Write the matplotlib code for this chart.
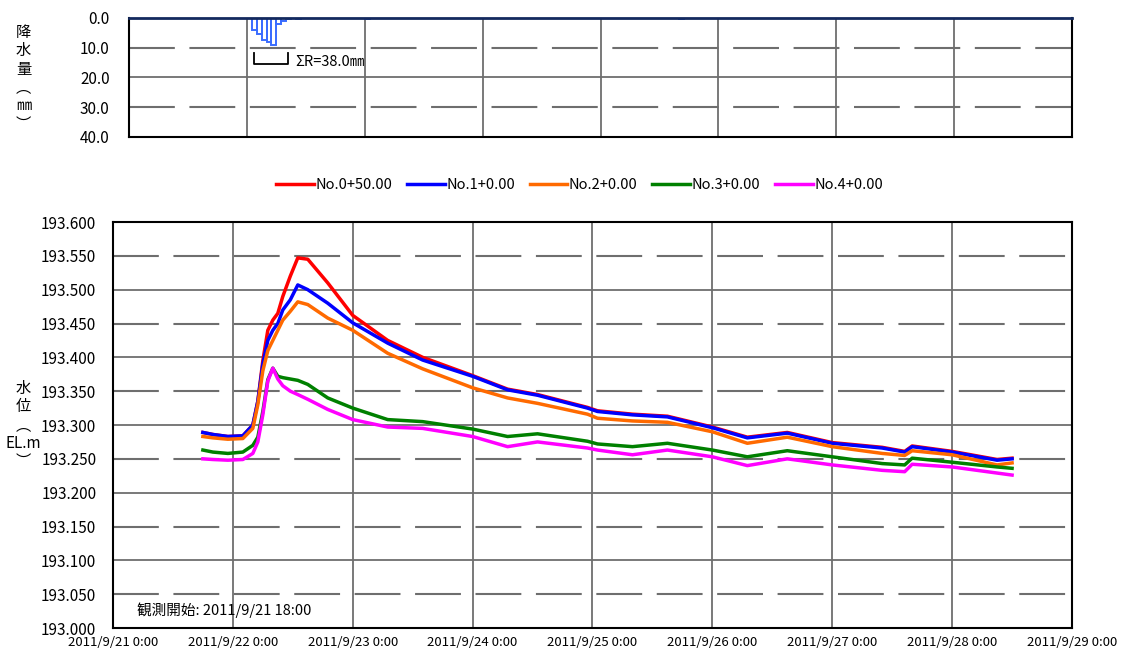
import matplotlib
matplotlib.use('Agg')
import matplotlib.pyplot as plt

plt.rcParams['font.family'] = ['Noto Sans CJK JP', 'DejaVu Sans']

# 経過時間 (2011/9/21 0:00 からの時間)
hours = [18, 20, 23, 26, 28, 29, 30, 31, 32, 33, 34, 35.5, 37, 39, 43, 48, 55, 62,
         72, 79, 85, 95, 97, 104, 111, 120, 127, 135, 144, 154, 158.5, 160, 168, 177, 180]

# 水位 (EL.m)
no0_50 = [193.289, 193.286, 193.283, 193.284, 193.300, 193.335, 193.395, 193.440, 193.455,
          193.465, 193.490, 193.520, 193.547, 193.545, 193.510, 193.462, 193.425, 193.400,
          193.373, 193.353, 193.345, 193.326, 193.321, 193.316, 193.313, 193.297, 193.282,
          193.289, 193.274, 193.267, 193.261, 193.269, 193.261, 193.249, 193.251]
no1_00 = [193.289, 193.286, 193.283, 193.284, 193.300, 193.335, 193.390, 193.425, 193.440,
          193.450, 193.470, 193.485, 193.507, 193.500, 193.480, 193.451, 193.421, 193.396,
          193.372, 193.352, 193.344, 193.325, 193.320, 193.315, 193.312, 193.296, 193.281,
          193.288, 193.273, 193.266, 193.260, 193.268, 193.260, 193.248, 193.250]
no2_00 = [193.283, 193.281, 193.279, 193.280, 193.295, 193.330, 193.380, 193.410, 193.425,
          193.440, 193.455, 193.468, 193.482, 193.478, 193.458, 193.440, 193.406, 193.383,
          193.355, 193.340, 193.332, 193.316, 193.310, 193.306, 193.304, 193.290, 193.273,
          193.282, 193.268, 193.258, 193.255, 193.262, 193.256, 193.241, 193.244]
no3_00 = [193.263, 193.260, 193.258, 193.260, 193.270, 193.282, 193.320, 193.367, 193.384,
          193.372, 193.370, 193.368, 193.366, 193.360, 193.340, 193.325, 193.308, 193.305,
          193.294, 193.283, 193.287, 193.276, 193.272, 193.268, 193.273, 193.263, 193.253,
          193.262, 193.253, 193.243, 193.241, 193.251, 193.245, 193.238, 193.236]
no4_00 = [193.250, 193.249, 193.248, 193.249, 193.258, 193.275, 193.315, 193.365, 193.384,
          193.368, 193.358, 193.350, 193.345, 193.338, 193.323, 193.308, 193.297, 193.295,
          193.283, 193.268, 193.275, 193.266, 193.263, 193.256, 193.263, 193.253, 193.240,
          193.250, 193.241, 193.233, 193.231, 193.242, 193.238, 193.229, 193.226]

series_names = ['No.0+50.00', 'No.1+0.00', 'No.2+0.00', 'No.3+0.00', 'No.4+0.00']
series_colors = ['#ff0000', '#0000ff', '#ff6a00', '#008000', '#ff00ff']

# 時間雨量 (mm)
rain_hours = [25, 26, 27, 28, 29, 30, 31, 32, 33, 34, 48, 112]
rain_mm = [4.0, 5.5, 7.5, 8.0, 9.0, 2.0, 1.0, 0.5, 0.0, 0.5, 0.3, 0.3]

day_ticks = [0, 24, 48, 72, 96, 120, 144, 168, 192]
day_labels = ['2011/9/21 0:00', '2011/9/22 0:00', '2011/9/23 0:00', '2011/9/24 0:00',
              '2011/9/25 0:00', '2011/9/26 0:00', '2011/9/27 0:00', '2011/9/28 0:00',
              '2011/9/29 0:00']

grid_col = '#6e6e6e'
dash = (22, 7)

fig = plt.figure(figsize=(11.23, 6.52), dpi=100)

# 降水量
ax_r = fig.add_axes([0.1149, 0.7899, 0.8397, 0.1825])
ax_r.bar(rain_hours, rain_mm, width=1, align='edge', fill=False, edgecolor='#3a6cff', linewidth=1.4)
ax_r.set_xlim(0, 192)
ax_r.set_ylim(40, 0)
ax_r.set_yticks([0, 10, 20, 30, 40])
ax_r.set_yticklabels(['0.0', '10.0', '20.0', '30.0', '40.0'], fontsize=11)
ax_r.set_xticks([])
ax_r.tick_params(axis='y', length=0, pad=14)
for d in day_ticks[1:-1]:
    ax_r.axvline(d, color=grid_col, lw=1.3, zorder=0)
ax_r.axhline(20, color=grid_col, lw=1.3, zorder=0)
for v in [10, 30]:
    ax_r.axhline(v, color=grid_col, lw=1.5, dashes=dash, zorder=0)
for s in ['left', 'right', 'bottom']:
    ax_r.spines[s].set_linewidth(1.5)
    ax_r.spines[s].set_color('black')
ax_r.spines['top'].set_color('#13295e')
ax_r.spines['top'].set_linewidth(2)
ax_r.plot([25.4, 25.4, 32.4, 32.4], [11.8, 15.5, 15.5, 11.8], color='black', lw=1.3)
ax_r.text(33.8, 14.8, 'ΣR=38.0㎜', fontsize=10.5, va='center', ha='left')

# 水位
ax = fig.add_axes([0.1006, 0.0368, 0.854, 0.6227])
for vals, name, col in zip([no0_50, no1_00, no2_00, no3_00, no4_00], series_names, series_colors):
    ax.plot(hours, vals, color=col, lw=2.5, label=name)
ax.set_xlim(0, 192)
ax.set_ylim(193.0, 193.6)
yt = [193.0 + 0.05 * i for i in range(13)]
ax.set_yticks(yt)
ax.set_yticklabels(['%.3f' % v for v in yt], fontsize=11)
ax.set_xticks(day_ticks)
ax.set_xticklabels(day_labels, fontsize=9.5)
ax.tick_params(axis='both', length=0)
ax.tick_params(axis='y', pad=12)
ax.tick_params(axis='x', pad=6)
for d in day_ticks[1:-1]:
    ax.axvline(d, color=grid_col, lw=1.3, zorder=0)
for i, v in enumerate(yt[1:-1], start=1):
    if i % 2 == 0:
        ax.axhline(v, color=grid_col, lw=1.3, zorder=0)
    else:
        ax.axhline(v, color=grid_col, lw=1.5, dashes=dash, zorder=0)
for s in ax.spines.values():
    s.set_linewidth(1.5)
    s.set_color('black')
ax.text(4.8, 193.027, '観測開始: 2011/9/21 18:00', fontsize=10.5, va='center', ha='left')

fig.legend(loc='center', bbox_to_anchor=(0.516, 0.716), ncol=5, frameon=False,
           fontsize=10.5, handlelength=2.6, handletextpad=0.1, columnspacing=1.0)

fig.text(0.021, 0.88, '降\n水\n量\n︵\n㎜\n︶', fontsize=11, ha='center', va='center', linespacing=1.1)
fig.text(0.021, 0.348, '水\n位\n︵\nEL.m\n︶', fontsize=11, ha='center', va='center', linespacing=1.1)

fig.savefig('out.png', dpi=100)
